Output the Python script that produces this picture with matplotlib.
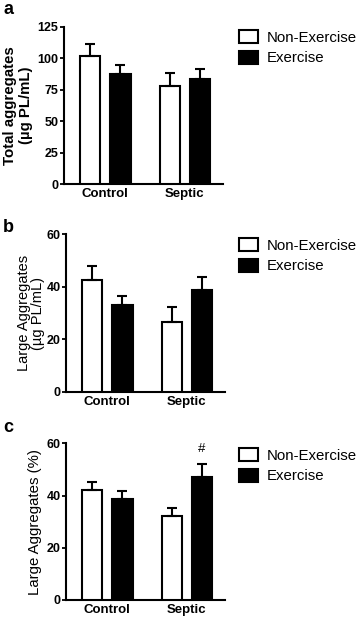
import matplotlib
matplotlib.use("Agg")
import matplotlib.pyplot as plt
import numpy as np
from matplotlib.patches import Patch

plt.rcParams["font.family"] = ["Liberation Sans", "DejaVu Sans"]

groups = ["Control", "Septic"]
series = ["Non-Exercise", "Exercise"]

# panel a: total aggregates (ug PL/mL)
total_nonex = [101.3, 77.9]
total_nonex_sem = [10.1, 10.3]
total_ex = [87.1, 83.7]
total_ex_sem = [7.7, 7.3]

# panel b: large aggregates (ug PL/mL)
large_nonex = [42.6, 26.5]
large_nonex_sem = [5.4, 5.8]
large_ex = [33.2, 38.8]
large_ex_sem = [3.1, 5.1]

# panel c: large aggregates (%)
pct_nonex = [42.1, 32.2]
pct_nonex_sem = [3.0, 3.2]
pct_ex = [38.7, 47.0]
pct_ex_sem = [3.1, 5.1]

W, H = 358, 618
fig = plt.figure(figsize=(W / 100, H / 100), dpi=100)


def px_axes(left, right, top, bottom):
    return fig.add_axes([left / W, 1 - bottom / H, (right - left) / W, (bottom - top) / H])


def panel(ax, nonex, nonex_sem, ex, ex_sem, ymax, yticks, ylabel, ylabel_kw,
          legend_top, letter, letter_y, mark=None):
    x = np.arange(len(groups))
    w, off = 0.253, 0.19
    ekw = dict(ecolor="black", elinewidth=1.5, capthick=1.5)
    ax.bar(x - off, nonex, w, color="white", edgecolor="black", linewidth=1.5,
           yerr=[np.zeros(len(nonex)), nonex_sem], capsize=3.8, error_kw=ekw, zorder=3)
    ax.bar(x + off, ex, w, color="black", edgecolor="black", linewidth=1.5,
           yerr=[np.zeros(len(ex)), ex_sem], capsize=3.8, error_kw=ekw, zorder=3)
    ax.set_xlim(-0.52, 1.48)
    ax.set_ylim(0, ymax)
    ax.set_yticks(yticks)
    ax.set_xticks(x)
    ax.set_xticklabels(groups, fontsize=9.5, fontweight="bold")
    for t in ax.get_yticklabels():
        t.set_fontweight("bold")
        t.set_fontsize(9)
    ax.tick_params(axis="y", length=3, width=1.3, pad=1)
    ax.tick_params(axis="x", length=0, pad=3)
    for s in ("top", "right"):
        ax.spines[s].set_visible(False)
    for s in ("left", "bottom"):
        ax.spines[s].set_linewidth(1.5)
    ax.set_ylabel(ylabel, **ylabel_kw)
    if mark is not None:
        i, txt = mark
        ax.text(x[i] + off, ex[i] + ex_sem[i] + ymax * 0.055, txt, ha="center",
                va="bottom", fontsize=9.5)
    handles = [Patch(facecolor="white", edgecolor="black", linewidth=1.5),
               Patch(facecolor="black", edgecolor="black", linewidth=1.5)]
    fig.legend(handles, series, loc="upper left",
               bbox_to_anchor=(238.7 / W, 1 - legend_top / H),
               bbox_transform=fig.transFigure, frameon=False, fontsize=10.8,
               borderpad=0, borderaxespad=0, handletextpad=0.55,
               handlelength=1.3, handleheight=0.95, labelspacing=0.4)
    fig.text(3 / W, 1 - letter_y / H, letter, fontsize=13, fontweight="bold",
             ha="left", va="baseline")


ax_a = px_axes(64, 223, 26.5, 184.3)
panel(ax_a, total_nonex, total_nonex_sem, total_ex, total_ex_sem, 125,
      [0, 25, 50, 75, 100, 125], "Total aggregates\n(µg PL/mL)",
      dict(fontsize=10.8, fontweight="bold", labelpad=3, linespacing=1.2),
      30, "a", 14)

ax_b = px_axes(66, 225, 234.3, 391.7)
panel(ax_b, large_nonex, large_nonex_sem, large_ex, large_ex_sem, 60,
      [0, 20, 40, 60], "Large Aggregates\n(µg PL/mL)",
      dict(fontsize=10.5, labelpad=1, linespacing=0.95),
      238, "b", 232)

ax_c = px_axes(66, 225, 443.3, 600)
panel(ax_c, pct_nonex, pct_nonex_sem, pct_ex, pct_ex_sem, 60,
      [0, 20, 40, 60], "Large Aggregates (%)",
      dict(fontsize=10.8, labelpad=3),
      448, "c", 432, mark=(1, "#"))

fig.savefig("out.png", dpi=100)
